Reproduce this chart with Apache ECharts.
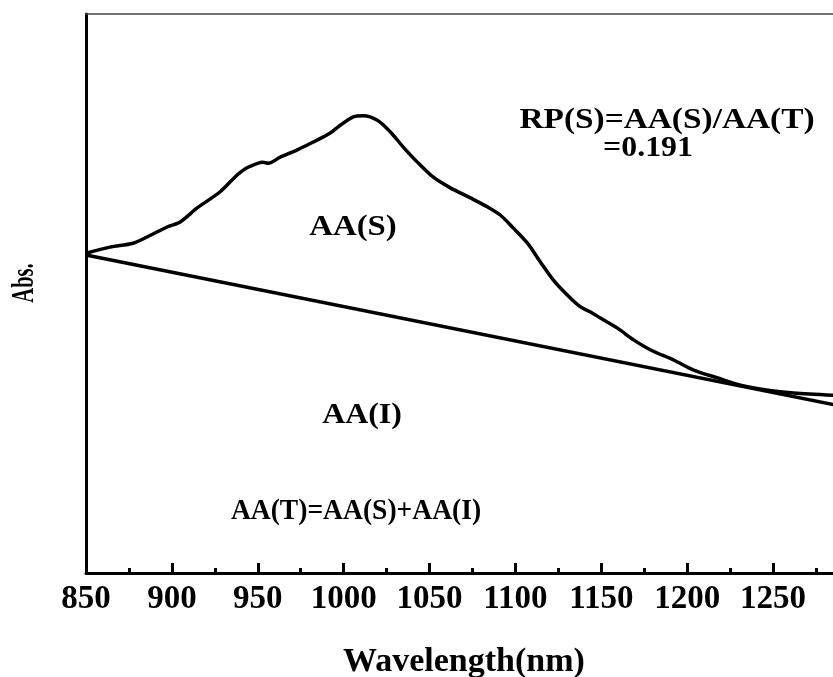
<!DOCTYPE html>
<html>
<head>
<meta charset="utf-8">
<script src="https://cdn.jsdelivr.net/npm/echarts@6/dist/echarts.min.js"></script>
<style>
html,body{margin:0;padding:0;background:#fff;overflow:hidden;}
#chart{width:833px;height:677px;}
</style>
</head>
<body>
<div id="chart"></div>
<script>
// Measured spectrum (wavelength nm, absorbance arb. units)
const wavelength = [850, 864, 877.4, 885.5, 897.2, 904.8, 914.7, 928.1, 938, 943.8, 953.1, 956.1, 963.1, 973, 982.3, 992.2, 998, 1005.6, 1011.4, 1019.6, 1027.2, 1034.7, 1042.9, 1052.2, 1062.1, 1073.8, 1083.7, 1091.3, 1098.8, 1107, 1114.6, 1122.1, 1130.3, 1137.9, 1143.7, 1149.5, 1159.4, 1168.8, 1178.7, 1192.1, 1203.7, 1217.7, 1231.1, 1246.9, 1262, 1285];
const absorbance = [0.572, 0.583, 0.590, 0.601, 0.619, 0.628, 0.653, 0.682, 0.712, 0.725, 0.735, 0.733, 0.744, 0.757, 0.771, 0.787, 0.801, 0.816, 0.818, 0.810, 0.789, 0.762, 0.735, 0.708, 0.689, 0.671, 0.655, 0.640, 0.617, 0.590, 0.556, 0.524, 0.497, 0.476, 0.467, 0.456, 0.438, 0.417, 0.399, 0.381, 0.363, 0.349, 0.336, 0.327, 0.322, 0.318];
// Baseline separating AA(S) from AA(I)
const baselineX = [850, 1300];
const baselineY = [0.569, 0.292];
const xTicks = [850, 900, 950, 1000, 1050, 1100, 1150, 1200, 1250];
const labels = {
  rp: 'RP(S)=AA(S)/AA(T)',
  rpValue: '=0.191',
  aas: 'AA(S)',
  aai: 'AA(I)',
  aat: 'AA(T)=AA(S)+AA(I)',
  yName: 'Abs.',
  xName: 'Wavelength(nm)'
};

const FONT = '"Liberation Serif", "Times New Roman", serif';
const chart = echarts.init(document.getElementById('chart'), null, {renderer: 'canvas'});

function txt(text, x, y, size, sx, rot) {
  return {
    type: 'text', x: x, y: y, scaleX: sx, scaleY: 1, rotation: rot || 0, z: 100,
    style: {
      text: text, fill: '#000',
      font: 'bold ' + size + 'px ' + FONT,
      textAlign: 'center', textVerticalAlign: 'middle'
    }
  };
}

chart.setOption({
  backgroundColor: '#fff',
  animation: false,
  grid: {left: 86, right: -26, top: 14, bottom: 104, containLabel: false, outerBoundsMode: 'none'},
  xAxis: [{
    type: 'value', min: 850, max: 1300, interval: 50,
    position: 'bottom',
    axisLine: {show: true, lineStyle: {color: '#000', width: 3}},
    axisTick: {show: true, inside: true, length: 10, lineStyle: {color: '#000', width: 3}},
    minorTick: {show: true, splitNumber: 2, length: 5, lineStyle: {color: '#000', width: 3}},
    splitLine: {show: false},
    axisLabel: {
      show: true, margin: 10, color: '#000', fontSize: 33, fontWeight: 'bold', fontFamily: FONT,
      showMaxLabel: false,
      formatter: function (v) { return xTicks.indexOf(v) >= 0 ? String(v) : ''; }
    },
    name: labels.xName, nameLocation: 'middle', nameGap: 72,
    nameTextStyle: {color: '#000', fontSize: 34, fontWeight: 'bold', fontFamily: FONT, padding: [0, 17, 0, 0]}
  }, {
    type: 'value', min: 850, max: 1300, position: 'top',
    axisLine: {show: true, lineStyle: {color: '#444', width: 1.5}},
    axisTick: {show: false}, axisLabel: {show: false}, splitLine: {show: false}
  }],
  yAxis: {
    type: 'value', min: 0, max: 1,
    axisLine: {show: true, lineStyle: {color: '#000', width: 3}},
    axisTick: {show: false}, axisLabel: {show: false}, splitLine: {show: false}
  },
  series: [{
    type: 'line', showSymbol: false, smooth: 0.3,
    data: wavelength.map((w, i) => [w, absorbance[i]]),
    lineStyle: {color: '#000', width: 3.5}
  }, {
    type: 'line', showSymbol: false,
    data: baselineX.map((w, i) => [w, baselineY[i]]),
    lineStyle: {color: '#000', width: 3.5}
  }],
  graphic: [
    txt(labels.rp, 667, 121, 29, 1.15),
    txt(labels.rpValue, 648, 149, 29, 1.1),
    txt(labels.aas, 353, 228, 29, 1.13),
    txt(labels.aai, 362, 416, 29, 1.1),
    txt(labels.aat, 356, 512, 29, 0.95),
    txt(labels.yName, 25, 283, 32, 0.64, Math.PI / 2)
  ]
});
</script>
</body>
</html>
